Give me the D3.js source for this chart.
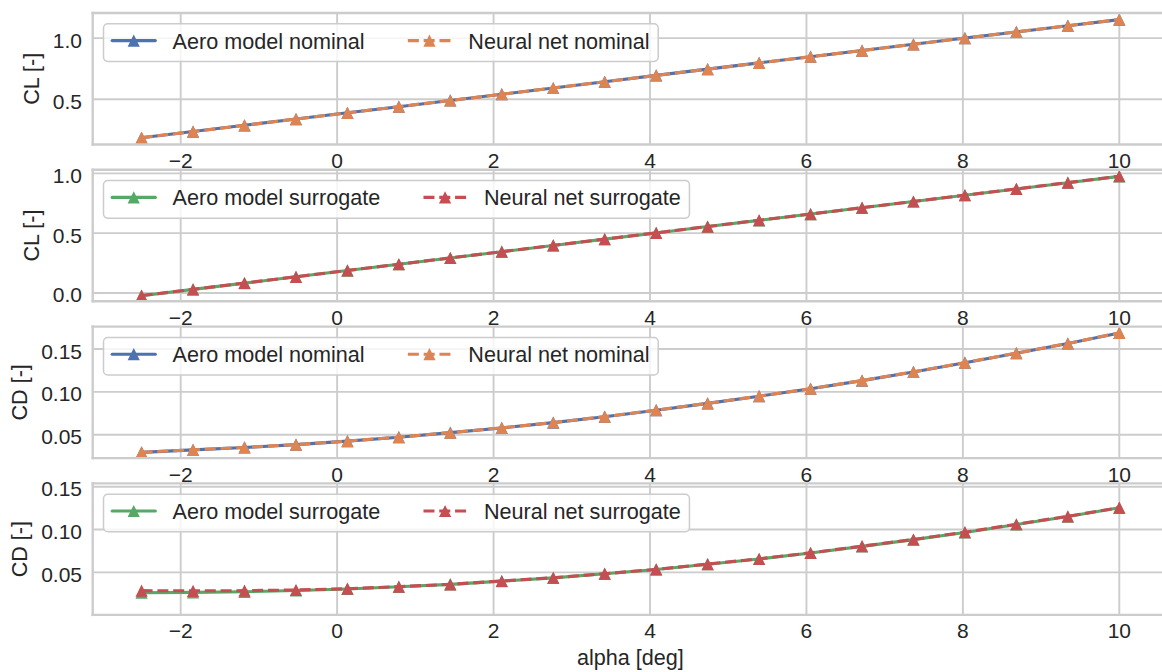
<!DOCTYPE html>
<html>
<head>
<meta charset="utf-8">
<script src="https://cdn.jsdelivr.net/npm/d3@7"></script>
<style>
  html, body { margin: 0; padding: 0; background: #ffffff; }
  svg { display: block; }
  text { font-family: "Liberation Sans", Arial, "DejaVu Sans", sans-serif; fill: #262626; }
</style>
</head>
<body>
<svg id="chart" width="1162" height="672"></svg>
<script>
// Angle of attack sweep [deg]
const alpha = [-2.5, -1.842, -1.184, -0.526, 0.132, 0.789, 1.447, 2.105, 2.763, 3.421,
               4.079, 4.737, 5.395, 6.053, 6.711, 7.368, 8.026, 8.684, 9.342, 10];

// Lift coefficient, nominal configuration
const clAeroNominal = [0.185, 0.236, 0.287, 0.338, 0.389, 0.439, 0.490, 0.541, 0.592, 0.643,
                       0.695, 0.746, 0.797, 0.848, 0.898, 0.949, 1.000, 1.050, 1.101, 1.151];
const clNetNominal  = [0.186, 0.236, 0.287, 0.338, 0.389, 0.440, 0.490, 0.541, 0.592, 0.643,
                       0.695, 0.746, 0.797, 0.848, 0.898, 0.949, 1.000, 1.051, 1.101, 1.152];

// Lift coefficient, surrogate configuration
const clAeroSurrogate = [-0.023, 0.030, 0.082, 0.135, 0.187, 0.240, 0.292, 0.345, 0.397, 0.450,
                         0.502, 0.555, 0.607, 0.660, 0.712, 0.765, 0.817, 0.870, 0.922, 0.975];
const clNetSurrogate  = [-0.022, 0.030, 0.083, 0.135, 0.188, 0.240, 0.293, 0.345, 0.398, 0.450,
                         0.503, 0.555, 0.608, 0.660, 0.713, 0.765, 0.818, 0.870, 0.923, 0.976];

// Drag coefficient, nominal configuration
const cdAeroNominal = [0.0295, 0.0324, 0.0352, 0.0385, 0.0426, 0.0472, 0.0525, 0.0580, 0.0642, 0.0711,
                       0.0787, 0.0866, 0.0950, 0.1037, 0.1132, 0.1233, 0.1341, 0.1452, 0.1565, 0.1688];
const cdNetNominal  = [0.0296, 0.0325, 0.0353, 0.0385, 0.0427, 0.0473, 0.0526, 0.0581, 0.0643, 0.0712,
                       0.0788, 0.0867, 0.0951, 0.1038, 0.1133, 0.1234, 0.1342, 0.1453, 0.1566, 0.1689];

// Drag coefficient, surrogate configuration
const cdAeroSurrogate = [0.0262, 0.0266, 0.0273, 0.0288, 0.0306, 0.0331, 0.0359, 0.0397, 0.0436, 0.0483,
                         0.0534, 0.0595, 0.0656, 0.0726, 0.0803, 0.0882, 0.0966, 0.1059, 0.1152, 0.1254];
const cdNetSurrogate  = [0.0286, 0.0284, 0.0286, 0.0294, 0.0309, 0.0333, 0.0360, 0.0399, 0.0437, 0.0484,
                         0.0535, 0.0597, 0.0658, 0.0728, 0.0806, 0.0884, 0.0969, 0.1062, 0.1155, 0.1256];

// Axis ticks
const xTicks = [-2, 0, 2, 4, 6, 8, 10];
const clNominalTicks = [0.5, 1.0];
const clSurrogateTicks = [0.0, 0.5, 1.0];
const cdTicks = [0.05, 0.10, 0.15];

// Legend texts
const nominalLabels = ["Aero model nominal", "Neural net nominal"];
const surrogateLabels = ["Aero model surrogate", "Neural net surrogate"];

// ---------------------------------------------------------------------------
const W = 1162, H = 672;
const svg = d3.select("#chart");

const GRID = "#cccccc";
const FONT_TICK = 21;
const FONT_LEG = 21.6;
const LW = 3.1;
const DASH = "11,4.8";
const MARK = 6.1; // half-size of the triangle marker

const panelTop = [13, 169.8, 326.6, 483.4];
const panelH = 131.5;

const x = d3.scaleLinear().domain([-3.125, 10.625]).range([92.7, 1168.2]);

const panels = [
  { yLabel: "CL [-]", ticks: clNominalTicks, fmt: d3.format(".1f"), domain: [0.13, 1.205],
    aero: clAeroNominal, net: clNetNominal, labels: nominalLabels, colors: ["#4C72B0", "#DD8452"] },
  { yLabel: "CL [-]", ticks: clSurrogateTicks, fmt: d3.format(".1f"), domain: [-0.070, 1.030],
    aero: clAeroSurrogate, net: clNetSurrogate, labels: surrogateLabels, colors: ["#55A868", "#C44E52"] },
  { yLabel: "CD [-]", ticks: cdTicks, fmt: d3.format(".2f"), domain: [0.0228, 0.1762],
    aero: cdAeroNominal, net: cdNetNominal, labels: nominalLabels, colors: ["#4C72B0", "#DD8452"] },
  { yLabel: "CD [-]", ticks: cdTicks, fmt: d3.format(".2f"), domain: [0.0003, 0.1539],
    aero: cdAeroSurrogate, net: cdNetSurrogate, labels: surrogateLabels, colors: ["#55A868", "#C44E52"] }
];

const minus = s => s.replace("-", "\u2212");
const tri = s => `M0,${-s}L${s},${s}L${-s},${s}Z`;

panels.forEach((p, i) => {
  const top = panelTop[i], bottom = top + panelH;
  const y = d3.scaleLinear().domain(p.domain).range([bottom, top]);
  const g = svg.append("g");

  // axes background (covers overflow of the panel above)
  g.append("rect").attr("x", x.range()[0]).attr("y", top)
    .attr("width", x.range()[1] - x.range()[0]).attr("height", panelH)
    .attr("fill", "#ffffff");

  // grid
  const grid = g.append("g").attr("stroke", GRID).attr("stroke-width", 1.9);
  grid.selectAll("line.v").data(xTicks).join("line")
    .attr("x1", d => x(d)).attr("x2", d => x(d)).attr("y1", top).attr("y2", bottom);
  grid.selectAll("line.h").data(p.ticks).join("line")
    .attr("x1", x.range()[0]).attr("x2", x.range()[1]).attr("y1", d => y(d)).attr("y2", d => y(d));

  // x tick labels
  g.append("g").selectAll("text").data(xTicks).join("text")
    .attr("x", d => x(d)).attr("y", bottom + 23.5)
    .attr("text-anchor", "middle").attr("font-size", FONT_TICK)
    .text(d => minus(String(d)));

  // y tick labels
  const yt = g.append("g").selectAll("text").data(p.ticks).join("text")
    .attr("x", 82).attr("y", d => y(d) + 9.5)
    .attr("text-anchor", "end").attr("font-size", FONT_TICK)
    .text(d => p.fmt(d));
  let maxW = 0;
  yt.each(function () { maxW = Math.max(maxW, this.getComputedTextLength()); });

  // y label
  const lx = 82 - maxW - 14;
  g.append("text")
    .attr("transform", `translate(${lx},${(top + bottom) / 2}) rotate(-90)`)
    .attr("text-anchor", "middle").attr("font-size", FONT_LEG)
    .text(p.yLabel);

  // series
  const line = d3.line().x((d, k) => x(alpha[k])).y(d => y(d));
  const series = [
    { vals: p.aero, color: p.colors[0], dash: null },
    { vals: p.net, color: p.colors[1], dash: DASH }
  ];
  series.forEach(s => {
    g.append("path").datum(s.vals).attr("d", line)
      .attr("fill", "none").attr("stroke", s.color).attr("stroke-width", LW)
      .attr("stroke-linecap", s.dash ? "butt" : "round").attr("stroke-linejoin", "round")
      .attr("stroke-dasharray", s.dash);
    g.append("g").selectAll("path").data(s.vals).join("path")
      .attr("d", tri(MARK))
      .attr("transform", (d, k) => `translate(${x(alpha[k])},${y(d)})`)
      .attr("fill", s.color);
  });

  // spines
  const sp = g.append("g").attr("stroke", GRID).attr("stroke-width", 2.4).attr("stroke-linecap", "square");
  sp.append("line").attr("x1", x.range()[0]).attr("x2", x.range()[0]).attr("y1", top).attr("y2", bottom);
  sp.append("line").attr("x1", x.range()[0]).attr("x2", x.range()[1]).attr("y1", top).attr("y2", top);
  sp.append("line").attr("x1", x.range()[0]).attr("x2", x.range()[1]).attr("y1", bottom).attr("y2", bottom);

  // legend
  const F = FONT_LEG;
  const pad = 0.4 * F;
  const x0 = x.range()[0] + 0.5 * F;
  const y0 = top + 0.5 * F;
  const boxH = 2 * pad + 0.94 * F;
  const cy = y0 + boxH / 2;
  const leg = g.append("g");
  const frame = leg.append("rect").attr("x", x0).attr("y", y0).attr("height", boxH)
    .attr("rx", 0.2 * F).attr("ry", 0.2 * F)
    .attr("fill", "#ffffff").attr("fill-opacity", 0.8)
    .attr("stroke", GRID).attr("stroke-width", 1.5);
  let cx = x0 + pad;
  series.forEach((s, k) => {
    const hx0 = cx, hx1 = cx + 2 * F;
    leg.append("line").attr("x1", hx0).attr("x2", hx1).attr("y1", cy - 2).attr("y2", cy - 2)
      .attr("stroke", s.color).attr("stroke-width", LW)
      .attr("stroke-linecap", s.dash ? "butt" : "round")
      .attr("stroke-dasharray", s.dash);
    leg.append("path").attr("d", tri(MARK))
      .attr("transform", `translate(${(hx0 + hx1) / 2},${cy - 2})`).attr("fill", s.color);
    const t = leg.append("text").attr("x", hx1 + 0.8 * F).attr("y", cy + 6)
      .attr("font-size", F).text(p.labels[k]);
    const tw = t.node().getComputedTextLength();
    cx = hx1 + 0.8 * F + tw + (k === 0 ? 2 * F : 0);
  });
  frame.attr("width", cx + pad - x0);
});

// x axis label
svg.append("text")
  .attr("x", (x.range()[0] + x.range()[1]) / 2).attr("y", 665)
  .attr("text-anchor", "middle").attr("font-size", FONT_LEG)
  .text("alpha [deg]");
</script>
</body>
</html>
